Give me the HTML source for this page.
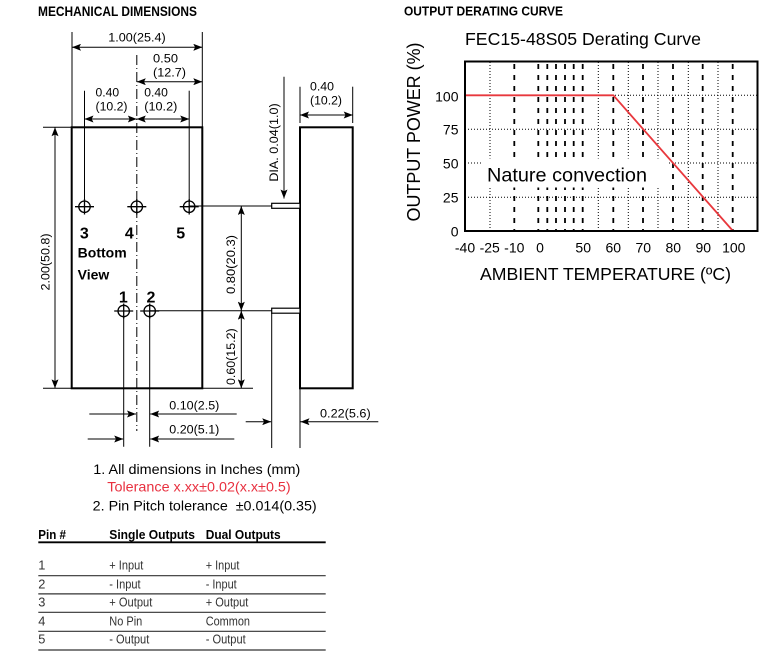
<!DOCTYPE html>
<html><head><meta charset="utf-8"><style>
html,body{margin:0;padding:0;background:#fff;}
svg{display:block;}
text{font-family:"Liberation Sans",Arial,sans-serif;fill:#000;}
</style></head><body>
<svg width="783" height="669" viewBox="0 0 783 669" xmlns="http://www.w3.org/2000/svg">
<defs>
<marker id="ar" viewBox="0 0 9 7" refX="9" refY="3.5" markerWidth="9" markerHeight="7" markerUnits="userSpaceOnUse" orient="auto-start-reverse">
<path d="M0,0 L9,3.5 L0,7 L1.8,3.5 z" fill="#000"/>
</marker>
</defs>
<rect width="783" height="669" fill="#fff"/>

<!-- Headings -->
<text x="38" y="16" font-size="13.5" font-weight="bold" textLength="159" lengthAdjust="spacingAndGlyphs">MECHANICAL DIMENSIONS</text>
<text x="404" y="15.7" font-size="13" font-weight="bold" textLength="159" lengthAdjust="spacingAndGlyphs">OUTPUT DERATING CURVE</text>

<!-- ===== Mechanical drawing ===== -->
<g stroke="#000" fill="none">
  <rect x="71.7" y="127.3" width="130.6" height="261" stroke-width="2"/>
  <rect x="300" y="127.3" width="52.7" height="261" stroke-width="2"/>

  <line x1="72" y1="32" x2="72" y2="127" stroke-width="1"/>
  <line x1="202.3" y1="32" x2="202.3" y2="127" stroke-width="1"/>
  <line x1="84.5" y1="90.7" x2="84.5" y2="200.5" stroke-width="1"/>
  <line x1="189.2" y1="90.7" x2="189.2" y2="200.5" stroke-width="1"/>
  <line x1="136.8" y1="55" x2="136.8" y2="431" stroke-width="1" stroke-dasharray="10 3 1 3"/>

  <line x1="72" y1="47.3" x2="202.3" y2="47.3" stroke-width="1" marker-start="url(#ar)" marker-end="url(#ar)"/>
  <line x1="136.8" y1="81.7" x2="202.3" y2="81.7" stroke-width="1" marker-start="url(#ar)" marker-end="url(#ar)"/>
  <line x1="84.5" y1="119" x2="136.8" y2="119" stroke-width="1" marker-start="url(#ar)" marker-end="url(#ar)"/>
  <line x1="136.8" y1="119" x2="189.2" y2="119" stroke-width="1" marker-start="url(#ar)" marker-end="url(#ar)"/>

  <line x1="300" y1="86.7" x2="300" y2="123" stroke-width="1"/>
  <line x1="352.7" y1="86.7" x2="352.7" y2="123" stroke-width="1"/>
  <line x1="300" y1="115" x2="352.7" y2="115" stroke-width="1" marker-start="url(#ar)" marker-end="url(#ar)"/>

  <line x1="284" y1="76.7" x2="284" y2="198.5" stroke-width="1" marker-end="url(#ar)"/>

  <line x1="43" y1="127.3" x2="72" y2="127.3" stroke-width="1"/>
  <line x1="43" y1="388.3" x2="72" y2="388.3" stroke-width="1"/>
  <line x1="55" y1="127.3" x2="55" y2="388.3" stroke-width="1" marker-start="url(#ar)" marker-end="url(#ar)"/>

  <line x1="189.2" y1="206" x2="271.7" y2="206" stroke-width="1"/>
  <line x1="149.7" y1="310.7" x2="271.7" y2="310.7" stroke-width="1"/>
  <line x1="202.3" y1="388.3" x2="253" y2="388.3" stroke-width="1"/>

  <rect x="271.7" y="203.3" width="28.3" height="5" stroke-width="1.2" fill="#fff"/>
  <rect x="271.7" y="308.2" width="28.3" height="5" stroke-width="1.2" fill="#fff"/>

  <line x1="241.3" y1="206" x2="241.3" y2="310.7" stroke-width="1" marker-start="url(#ar)" marker-end="url(#ar)"/>
  <line x1="241.3" y1="310.7" x2="241.3" y2="388.3" stroke-width="1" marker-start="url(#ar)" marker-end="url(#ar)"/>

  <line x1="123.7" y1="316" x2="123.7" y2="446.7" stroke-width="1"/>
  <line x1="149.7" y1="316" x2="149.7" y2="446.7" stroke-width="1"/>

  <line x1="89.3" y1="414" x2="136" y2="414" stroke-width="1" marker-end="url(#ar)"/>
  <line x1="236.7" y1="414" x2="150.2" y2="414" stroke-width="1" marker-end="url(#ar)"/>
  <line x1="87.7" y1="439" x2="123.2" y2="439" stroke-width="1" marker-end="url(#ar)"/>
  <line x1="234.3" y1="439" x2="150.2" y2="439" stroke-width="1" marker-end="url(#ar)"/>

  <line x1="271.7" y1="313" x2="271.7" y2="448" stroke-width="1"/>
  <line x1="300" y1="389" x2="300" y2="448" stroke-width="1"/>
  <line x1="245.7" y1="421.7" x2="271.2" y2="421.7" stroke-width="1" marker-end="url(#ar)"/>
  <line x1="378.3" y1="421.7" x2="300.5" y2="421.7" stroke-width="1" marker-end="url(#ar)"/>

  <g stroke-width="1.3">
    <circle cx="84.5" cy="206.7" r="5.7"/>
    <line x1="75" y1="206.7" x2="94" y2="206.7"/><line x1="84.5" y1="199" x2="84.5" y2="214.5"/>
    <circle cx="136.8" cy="206.7" r="5.7"/>
    <line x1="127.3" y1="206.7" x2="146.3" y2="206.7"/><line x1="136.8" y1="199" x2="136.8" y2="214.5"/>
    <circle cx="189.2" cy="206.7" r="5.7"/>
    <line x1="179.7" y1="206.7" x2="198.7" y2="206.7"/><line x1="189.2" y1="199" x2="189.2" y2="214.5"/>
    <circle cx="123.7" cy="311" r="5.7"/>
    <line x1="114.2" y1="311" x2="133.2" y2="311"/><line x1="123.7" y1="303.5" x2="123.7" y2="318.5"/>
    <circle cx="149.7" cy="311" r="5.7"/>
    <line x1="140.2" y1="311" x2="159.2" y2="311"/><line x1="149.7" y1="303.5" x2="149.7" y2="318.5"/>
  </g>
</g>

<g font-size="12.3">
  <text x="108.3" y="41.7" textLength="57.4" lengthAdjust="spacingAndGlyphs">1.00(25.4)</text>
  <text x="153" y="62.3" textLength="25" lengthAdjust="spacingAndGlyphs">0.50</text>
  <text x="153" y="76.3" textLength="33" lengthAdjust="spacingAndGlyphs">(12.7)</text>
  <text x="95.5" y="96.7" textLength="23.6" lengthAdjust="spacingAndGlyphs">0.40</text>
  <text x="95.5" y="110.7" textLength="32" lengthAdjust="spacingAndGlyphs">(10.2)</text>
  <text x="144.3" y="96.7" textLength="23.6" lengthAdjust="spacingAndGlyphs">0.40</text>
  <text x="144.3" y="110.7" textLength="33" lengthAdjust="spacingAndGlyphs">(10.2)</text>
  <text x="310" y="90.7" textLength="24" lengthAdjust="spacingAndGlyphs">0.40</text>
  <text x="310" y="104.7" textLength="32" lengthAdjust="spacingAndGlyphs">(10.2)</text>
  <text transform="translate(49.5,262) rotate(-90)" text-anchor="middle" textLength="57" lengthAdjust="spacingAndGlyphs">2.00(50.8)</text>
  <text transform="translate(235,264.5) rotate(-90)" text-anchor="middle" textLength="59" lengthAdjust="spacingAndGlyphs">0.80(20.3)</text>
  <text transform="translate(235,356.7) rotate(-90)" text-anchor="middle" textLength="56.7" lengthAdjust="spacingAndGlyphs">0.60(15.2)</text>
  <text transform="translate(278,142.5) rotate(-90)" text-anchor="middle" textLength="78.4" lengthAdjust="spacingAndGlyphs">DIA. 0.04(1.0)</text>
  <text x="169.3" y="409.3" textLength="50" lengthAdjust="spacingAndGlyphs">0.10(2.5)</text>
  <text x="169.3" y="433.3" textLength="50" lengthAdjust="spacingAndGlyphs">0.20(5.1)</text>
  <text x="320" y="417.3" textLength="50.7" lengthAdjust="spacingAndGlyphs">0.22(5.6)</text>
</g>

<g font-weight="bold">
  <text x="84.3" y="238.3" font-size="16" text-anchor="middle">3</text>
  <text x="129.3" y="238.3" font-size="16" text-anchor="middle">4</text>
  <text x="180.7" y="238.3" font-size="16" text-anchor="middle">5</text>
  <text x="123.3" y="302.7" font-size="16" text-anchor="middle">1</text>
  <text x="151" y="302.7" font-size="16" text-anchor="middle">2</text>
  <text x="77.7" y="257.7" font-size="13.5" textLength="49" lengthAdjust="spacingAndGlyphs">Bottom</text>
  <text x="77.7" y="279.3" font-size="13.5" textLength="31.6" lengthAdjust="spacingAndGlyphs">View</text>
</g>

<g font-size="14">
  <text x="93.3" y="474" textLength="207" lengthAdjust="spacingAndGlyphs">1. All dimensions in Inches (mm)</text>
  <text x="107.3" y="491.7" textLength="183.4" lengthAdjust="spacingAndGlyphs" style="fill:#e8303f">Tolerance x.xx±0.02(x.x±0.5)</text>
  <text x="92.7" y="510.7" textLength="224" lengthAdjust="spacingAndGlyphs">2. Pin Pitch tolerance &#160;±0.014(0.35)</text>
</g>

<g font-size="13" font-weight="bold">
  <text x="38.3" y="539" textLength="27.7" lengthAdjust="spacingAndGlyphs">Pin #</text>
  <text x="109.3" y="539" textLength="85.7" lengthAdjust="spacingAndGlyphs">Single Outputs</text>
  <text x="205.7" y="539" textLength="75" lengthAdjust="spacingAndGlyphs">Dual Outputs</text>
</g>
<line x1="38.3" y1="542.3" x2="325.7" y2="542.3" stroke="#000" stroke-width="1.8"/>
<g stroke="#333" stroke-width="1.2">
  <line x1="38.3" y1="575.7" x2="325.7" y2="575.7"/>
  <line x1="38.3" y1="593.9" x2="325.7" y2="593.9"/>
  <line x1="38.3" y1="612.3" x2="325.7" y2="612.3"/>
  <line x1="38.3" y1="631.3" x2="325.7" y2="631.3"/>
  <line x1="38.3" y1="650" x2="325.7" y2="650"/>
</g>
<g font-size="12.8">
  <text x="38.3" y="569.3" style="fill:#333">1</text>
  <text x="109.3" y="569.3" textLength="34" lengthAdjust="spacingAndGlyphs" style="fill:#333">+ Input</text>
  <text x="205.7" y="569.3" textLength="33.7" lengthAdjust="spacingAndGlyphs" style="fill:#333">+ Input</text>
  <text x="38.3" y="588.3" style="fill:#333">2</text>
  <text x="109.3" y="588.3" textLength="31.3" lengthAdjust="spacingAndGlyphs" style="fill:#333">- Input</text>
  <text x="205.7" y="588.3" textLength="31" lengthAdjust="spacingAndGlyphs" style="fill:#333">- Input</text>
  <text x="38.3" y="606.7" style="fill:#333">3</text>
  <text x="109.3" y="606.7" textLength="43" lengthAdjust="spacingAndGlyphs" style="fill:#333">+ Output</text>
  <text x="205.7" y="606.7" textLength="42.7" lengthAdjust="spacingAndGlyphs" style="fill:#333">+ Output</text>
  <text x="38.3" y="625.3" style="fill:#333">4</text>
  <text x="109.3" y="625.3" textLength="33" lengthAdjust="spacingAndGlyphs" style="fill:#333">No Pin</text>
  <text x="205.7" y="625.3" textLength="44.3" lengthAdjust="spacingAndGlyphs" style="fill:#333">Common</text>
  <text x="38.3" y="643.3" style="fill:#333">5</text>
  <text x="109.3" y="643.3" textLength="40" lengthAdjust="spacingAndGlyphs" style="fill:#333">- Output</text>
  <text x="205.7" y="643.3" textLength="40" lengthAdjust="spacingAndGlyphs" style="fill:#333">- Output</text>
</g>

<!-- ===== Derating chart ===== -->
<text x="465" y="45" font-size="17.5" textLength="236" lengthAdjust="spacingAndGlyphs">FEC15-48S05 Derating Curve</text>

<g stroke="#000" stroke-width="1" stroke-dasharray="1 2" fill="none">
  <line x1="465" y1="95.3" x2="757" y2="95.3"/>
  <line x1="465" y1="129.2" x2="757" y2="129.2"/>
  <line x1="465" y1="163" x2="757" y2="163"/>
  <line x1="465" y1="197.2" x2="757" y2="197.2"/>
  <line x1="490" y1="62" x2="490" y2="231"/>
  <line x1="598.3" y1="62" x2="598.3" y2="231"/>
  <line x1="628.3" y1="62" x2="628.3" y2="231"/>
  <line x1="658" y1="62" x2="658" y2="231"/>
  <line x1="688.3" y1="62" x2="688.3" y2="231"/>
  <line x1="718" y1="62" x2="718" y2="231"/>
</g>
<g stroke="#000" stroke-width="1.8" stroke-dasharray="5 6" fill="none">
  <line x1="514.3" y1="64" x2="514.3" y2="231"/>
  <line x1="538.3" y1="64" x2="538.3" y2="231"/>
  <line x1="547.3" y1="64" x2="547.3" y2="231"/>
  <line x1="556" y1="64" x2="556" y2="231"/>
  <line x1="565" y1="64" x2="565" y2="231"/>
  <line x1="573.7" y1="64" x2="573.7" y2="231"/>
  <line x1="582.7" y1="64" x2="582.7" y2="231"/>
  <line x1="613.3" y1="64" x2="613.3" y2="231"/>
  <line x1="643" y1="64" x2="643" y2="231"/>
  <line x1="673" y1="64" x2="673" y2="231"/>
  <line x1="702.7" y1="64" x2="702.7" y2="231"/>
  <line x1="732.7" y1="64" x2="732.7" y2="231"/>
</g>
<rect x="481" y="158.5" width="186" height="29" fill="#fff"/>
<text x="487" y="181.7" font-size="19.5" textLength="160" lengthAdjust="spacingAndGlyphs">Nature convection</text>

<polyline points="465,95.3 613.3,95.3 733,231" fill="none" stroke="#e8383d" stroke-width="1.8"/>

<rect x="465" y="61.5" width="292.5" height="169.5" fill="none" stroke="#000" stroke-width="2"/>

<g font-size="14" text-anchor="end">
  <text x="458.5" y="101.5">100</text>
  <text x="458.5" y="134.7">75</text>
  <text x="458.5" y="168.5">50</text>
  <text x="458.5" y="202.7">25</text>
  <text x="458.5" y="236.3">0</text>
</g>
<g font-size="14" text-anchor="middle">
  <text x="465" y="252.7">-40</text>
  <text x="489.7" y="252.7">-25</text>
  <text x="514.3" y="252.7">-10</text>
  <text x="540" y="252.7">0</text>
  <text x="583.2" y="252.7">50</text>
  <text x="613.3" y="252.7">60</text>
  <text x="643.3" y="252.7">70</text>
  <text x="673.3" y="252.7">80</text>
  <text x="703.3" y="252.7">90</text>
  <text x="733.8" y="252.7">100</text>
</g>
<text x="480" y="280" font-size="17.5" textLength="251" lengthAdjust="spacingAndGlyphs">AMBIENT TEMPERATURE (ºC)</text>
<text transform="translate(420,132) rotate(-90)" text-anchor="middle" font-size="18" textLength="179" lengthAdjust="spacingAndGlyphs">OUTPUT POWER (%)</text>
</svg>
</body></html>
